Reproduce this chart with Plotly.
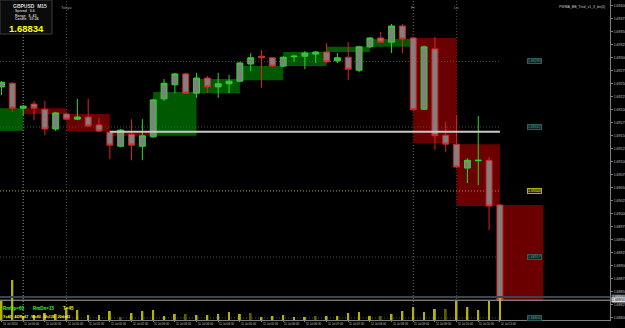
import plotly.graph_objects as go

# ---------------- data ----------------
symbol = "GBPUSD"
timeframe = "M15"
spread = "0.6"
day_range = "8, 43"
candle_left = "03:24"

idx = list(range(47))  # 15-minute bars, 10 Jul 23:30 .. 11 Jul 11:00

opens = [1.69244, 1.69251, 1.69203, 1.69211, 1.69201, 1.69163, 1.69192, 1.69182, 1.69186, 1.69171,
         1.69157, 1.69130, 1.69153, 1.69130, 1.69148, 1.69221, 1.69248, 1.69269, 1.69232, 1.69261,
         1.69244, 1.69250, 1.69255, 1.69288, 1.69303, 1.69300, 1.69284, 1.69302, 1.69303, 1.69307,
         1.69311, 1.69294, 1.69301, 1.69276, 1.69321, 1.69338, 1.69330, 1.69361, 1.69338, 1.69201,
         1.69317, 1.69151, 1.69134, 1.69088, 1.69102, 1.69103, 1.69017]
highs = [1.69255, 1.69253, 1.69209, 1.69217, 1.69217, 1.69196, 1.69194, 1.69221, 1.69221, 1.69184,
         1.69159, 1.69163, 1.69182, 1.69182, 1.69221, 1.69259, 1.69271, 1.69271, 1.69271, 1.69265,
         1.69271, 1.69267, 1.69292, 1.69309, 1.69315, 1.69301, 1.69303, 1.69305, 1.69313, 1.69313,
         1.69328, 1.69309, 1.69330, 1.69323, 1.69340, 1.69350, 1.69365, 1.69365, 1.69340, 1.69323,
         1.69340, 1.69176, 1.69190, 1.69107, 1.69188, 1.69109, 1.69019]
lows = [1.69228, 1.69196, 1.69188, 1.69180, 1.69151, 1.69159, 1.69180, 1.69180, 1.69167, 1.69157,
        1.69105, 1.69128, 1.69103, 1.69103, 1.69146, 1.69217, 1.69232, 1.69230, 1.69223, 1.69232,
        1.69223, 1.69232, 1.69253, 1.69274, 1.69242, 1.69282, 1.69282, 1.69292, 1.69278, 1.69290,
        1.69290, 1.69290, 1.69257, 1.69272, 1.69319, 1.69328, 1.69309, 1.69309, 1.69198, 1.69200,
        1.69123, 1.69119, 1.69088, 1.69059, 1.69055, 1.68969, 1.68832]
closes = [1.69253, 1.69203, 1.69207, 1.69203, 1.69163, 1.69194, 1.69182, 1.69186, 1.69169, 1.69159,
          1.69132, 1.69161, 1.69132, 1.69150, 1.69219, 1.69251, 1.69269, 1.69232, 1.69261, 1.69244,
          1.69250, 1.69255, 1.69290, 1.69300, 1.69300, 1.69284, 1.69301, 1.69303, 1.69309, 1.69311,
          1.69292, 1.69300, 1.69278, 1.69321, 1.69338, 1.69330, 1.69361, 1.69336, 1.69200, 1.69321,
          1.69150, 1.69134, 1.69090, 1.69103, 1.69103, 1.69015, 1.68834]
volumes = [190, 400, 40, 50, 70, 60, 120, 100, 50, 50,
           90, 30, 70, 90, 100, 40, 60, 60, 50, 50,
           60, 80, 60, 70, 30, 40, 50, 30, 30, 40,
           40, 40, 70, 80, 40, 40, 60, 90, 130, 80,
           110, 110, 190, 130, 100, 190, 230]
volume_dark = [11, 17, 23, 29, 35, 41]

tick_idx = [0, 2, 4, 6, 8, 10, 12, 14, 16, 18, 20, 22, 24, 26, 28, 30, 32, 34, 36, 38, 40, 42, 44, 46]
tick_text = ["10 Jul 2014", "11 Jul 00:00", "11 Jul 00:30", "11 Jul 01:00", "11 Jul 01:30",
             "11 Jul 02:00", "11 Jul 02:30", "11 Jul 03:00", "11 Jul 03:30", "11 Jul 04:00",
             "11 Jul 04:30", "11 Jul 05:00", "11 Jul 05:30", "11 Jul 06:00", "11 Jul 06:30",
             "11 Jul 07:00", "11 Jul 07:30", "11 Jul 08:00", "11 Jul 08:30", "11 Jul 09:00",
             "11 Jul 09:30", "11 Jul 10:00", "11 Jul 10:30", "11 Jul 11:00"]
price_ticks = [1.68800, 1.68825, 1.68850, 1.68875, 1.68900, 1.68925, 1.68950, 1.68975, 1.69000,
               1.69025, 1.69050, 1.69075, 1.69100, 1.69125, 1.69150, 1.69175, 1.69200, 1.69225,
               1.69250, 1.69275, 1.69300, 1.69325, 1.69350, 1.69375, 1.69400]

# hourly supply / demand boxes
zone_start = [-2, 2, 6, 10, 14, 18, 22, 26, 30, 34, 38, 42, 46]
zone_end = [2, 6, 10, 14, 18, 22, 26, 30, 34, 38, 42, 46, 50]
zone_top = [1.69203, 1.69203, 1.69192, 1.69159, 1.69234, 1.69259, 1.69284, 1.69311, 1.69321,
            1.69336, 1.69338, 1.69134, 1.69017]
zone_bottom = [1.69159, 1.69192, 1.69159, 1.69150, 1.69150, 1.69232, 1.69257, 1.69284, 1.69311,
               1.69321, 1.69136, 1.69015, 1.68834]
zone_kind = ["up", "dn", "dn", "dn", "up", "up", "up", "up", "up", "up", "dn", "dn", "dn"]

# horizontal price levels with labels
level_prices = [1.69293, 1.69167, 1.69044, 1.68917, 1.68800]
level_kind = ["pivot", "pivot", "mid", "pivot", "pivot"]
white_level = 1.69158
white_from = 10
bid = 1.68834
ask = 1.68840

# session separators
session_idx = [2, 6, 38, 42]
session_names = ["", "Tokyo", "Fr", "Lo"]
session_colors = ["#9a9a9a", "#4e4e22", "#6e6e6e", "#55551f"]

# ---------------- figure ----------------
FONT = "Liberation Sans, Arial, sans-serif"
PLOT_H = 320
x_range = [-0.14, 56.16]
y_range = [1.68796, 1.69411]
last = idx[-1]

fig = go.Figure()

vol_colors = ["#5c5c00" if i in volume_dark else "#b4b400" for i in idx]
fig.add_trace(go.Bar(x=idx, y=volumes, yaxis="y2", width=0.17,
                     marker=dict(color=vol_colors, line=dict(width=0)), hoverinfo="skip"))

fig.add_trace(go.Candlestick(
    x=idx, open=opens, high=highs, low=lows, close=closes, whiskerwidth=0,
    increasing=dict(line=dict(color="#2ad82a", width=1), fillcolor="#808080"),
    decreasing=dict(line=dict(color="#dd2222", width=1), fillcolor="#808080"),
    hoverinfo="skip"))

shapes = []
for s, e, t, b, k in zip(zone_start, zone_end, zone_top, zone_bottom, zone_kind):
    shapes.append(dict(type="rect", xref="x", yref="y", x0=s, x1=e, y0=b, y1=t, layer="below",
                       fillcolor="#005800" if k == "up" else "#6a0000", line=dict(width=0)))

for p, k in zip(level_prices, level_kind):
    col = "#a3a300" if k == "mid" else "#355858"
    shapes.append(dict(type="line", xref="x", yref="y", x0=x_range[0], x1=last, y0=p, y1=p,
                       layer="below", line=dict(color=col, width=1, dash="1px,2px")))

shapes.append(dict(type="line", xref="x", yref="y", x0=white_from, x1=last, y0=white_level,
                   y1=white_level, line=dict(color="#c8c8c8", width=2)))

for si, sc in zip(session_idx, session_colors):
    shapes.append(dict(type="line", xref="x", yref="paper", x0=si, x1=si, y0=0, y1=1,
                       layer="below", line=dict(color=sc, width=1, dash="1px,2px")))

shapes.append(dict(type="line", xref="paper", yref="y", x0=0, x1=1, y0=ask, y1=ask,
                   line=dict(color="#3a4550", width=2)))
shapes.append(dict(type="line", xref="paper", yref="y", x0=0, x1=1, y0=bid, y1=bid,
                   line=dict(color="#aaaaaa", width=1)))

# info box top-left
shapes.append(dict(type="rect", xref="paper", yref="paper", x0=0, x1=52 / 610, y0=1 - 34 / PLOT_H,
                   y1=1, fillcolor="#0b0b0b", line=dict(color="#3c3c3c", width=1)))

ann = []
for p, k in zip(level_prices, level_kind):
    if k == "mid":
        fc, bg, bc = "#ffff00", "#222200", "#b0b000"
    else:
        fc, bg, bc = "#5a9a9a", "#0c2626", "#2f5a5a"
    ann.append(dict(xref="paper", yref="y", x=542 / 610, y=p, text=f"{p:.5f}", showarrow=False,
                    font=dict(size=3.5, color=fc, family=FONT), bgcolor=bg, bordercolor=bc,
                    borderwidth=1, borderpad=0))
    ann.append(dict(xref="paper", yref="y", x=531 / 610, y=p, text="-", showarrow=False,
                    font=dict(size=4, color=fc, family=FONT)))

ann.append(dict(xref="paper", yref="y", x=1.002, y=ask, xanchor="left", text=f"{ask:.5f}",
                showarrow=False, font=dict(size=3.5, color="#e0e0e0", family=FONT),
                bgcolor="#4a5868", borderpad=0))
ann.append(dict(xref="paper", yref="y", x=1.002, y=bid, xanchor="left", text=f"{bid:.5f}",
                showarrow=False, font=dict(size=3.5, color="#000000", family=FONT),
                bgcolor="#dcdcdc", borderpad=0))

# time labels along the bottom (left-aligned at their bar, MT4 style)
for ti, tt in zip(tick_idx, tick_text):
    ann.append(dict(xref="x", yref="paper", x=ti, y=-1.2 / PLOT_H, xanchor="left", yanchor="top",
                    text=tt, showarrow=False, borderpad=0,
                    font=dict(size=2.8, color="#c0c0c0", family=FONT)))

for si, nm in zip(session_idx, session_names):
    if nm:
        ann.append(dict(xref="x", yref="paper", x=si, y=1 - 3 / PLOT_H, yanchor="top", text=nm,
                        showarrow=False, font=dict(size=4, color="#9a9a9a", family=FONT)))

ann.append(dict(xref="paper", yref="paper", x=607 / 610, y=1 - 3 / PLOT_H, xanchor="right", yanchor="top",
                text="PWMA_BB_Trnd_v1_3_bn(0)", showarrow=False,
                font=dict(size=3.5, color="#c8c8c8", family=FONT)))


def ptext(x, y, text, size, color):
    return dict(xref="paper", yref="paper", x=x / 610, y=1 - y / PLOT_H, xanchor="left",
                yanchor="middle", text=text, showarrow=False,
                font=dict(size=size, color=color, family=FONT))


ann.append(ptext(11, 6.5, f"<b>{symbol}  {timeframe}</b>", 5, "#d8d8d8"))
ann.append(ptext(13, 11.5, f"<b>Spread   {spread}</b>", 3.5, "#c0c0c0"))
ann.append(ptext(13, 15.5, f"<b>Range   {day_range}</b>", 3.5, "#c0c0c0"))
ann.append(ptext(13, 19.5, f"<b>Candle   {candle_left}</b>", 3.5, "#c0c0c0"))
ann.append(ptext(7, 28.5, f"<b>{bid:.5f}</b>", 9.5, "#ffff00"))

ann.append(ptext(1, 308.5, "<b>RmUp=60</b>", 4.5, "#33ff33"))
ann.append(ptext(31, 308.5, "<b>RmDn=15</b>", 4.5, "#33ff33"))
ann.append(ptext(61, 308.5, "<b>T=45</b>", 4.5, "#ffff00"))
ann.append(ptext(1, 317, "<b>Y=40   ADR=67   W=80   M=138   20d=43</b>", 3.6, "#ffff00"))

fig.update_layout(
    width=625, height=328, margin=dict(l=0, r=15, t=0, b=328 - PLOT_H),
    paper_bgcolor="#000000", plot_bgcolor="#000000", showlegend=False, hovermode=False,
    boxgap=0.22, shapes=shapes, annotations=ann,
    xaxis=dict(range=x_range, tickvals=tick_idx, showticklabels=False, ticks="outside", ticklen=1,
               tickcolor="#808080", showgrid=False, zeroline=False, showline=True, linecolor="#808080",
               linewidth=1, mirror=True, rangeslider=dict(visible=False), automargin=False),
    yaxis=dict(range=y_range, side="right", tickvals=price_ticks,
               ticktext=[f"{v:.5f}" for v in price_ticks],
               tickfont=dict(size=3.5, color="#c0c0c0", family=FONT), ticks="outside", ticklen=2,
               tickcolor="#808080", showgrid=False, zeroline=False, showline=True, linecolor="#808080",
               linewidth=1, mirror=True, automargin=False),
    yaxis2=dict(overlaying="y", range=[0, 3200], visible=False, showgrid=False, zeroline=False),
)

fig.write_html("out.html")
